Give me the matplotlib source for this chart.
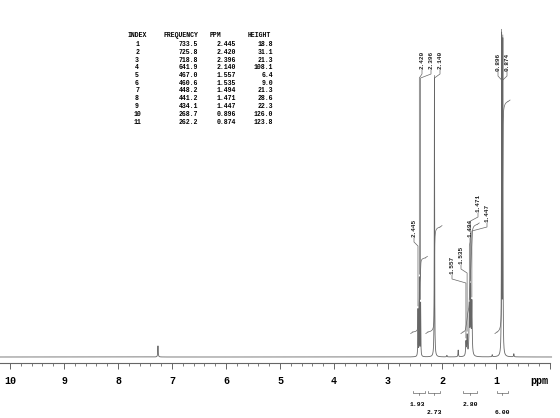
import numpy as np
import matplotlib.pyplot as plt
from matplotlib.ticker import MultipleLocator

# peak table (as printed on the spectrum)
peak_index = [1, 2, 3, 4, 5, 6, 7, 8, 9, 10, 11]
peak_freq = [733.5, 725.8, 718.8, 641.9, 467.0, 460.6, 448.2, 441.2, 434.1, 268.7, 262.2]
peak_ppm = [2.445, 2.420, 2.396, 2.140, 1.557, 1.535, 1.494, 1.471, 1.447, 0.896, 0.874]
peak_height = [18.8, 31.1, 21.3, 108.1, 6.4, 9.0, 21.3, 28.6, 22.3, 126.0, 123.8]

# small unlabelled signals (CHCl3, impurities)
extra_ppm = [7.26, 1.91, 1.70, 1.07, 0.67]
extra_height = [4.3, 0.6, 2.6, 0.8, 1.2]

# integrals
integral_from = [2.54, 2.26, 1.61, 0.98]
integral_to = [2.31, 2.04, 1.35, 0.78]
integral_value = [1.93, 2.73, 2.80, 6.00]

# layout helpers: reference pixel -> data coords
PX_PER_PPM = 54.0
PX_PER_UNIT = 2.58
BASE_PX = 357


def ppm_at(px):
    return 10 - (px - 10) / PX_PER_PPM


def y_at(py):
    return (BASE_PX - py) / PX_PER_UNIT


FONT = 'Liberation Mono'
LINE = '#666666'

# label placement (pixel x of label, pixel y of label bottom)
label_x = [414, 422, 431, 440, 452, 461, 470, 478, 487, 498, 507]
label_bottom = [238, 70, 70, 70, 275, 265, 238, 213, 223, 72, 72]

# --- build spectrum from the peak list (lorentzian lines)
x = np.linspace(10.3, -0.03, 60000)
pk = np.array(peak_ppm)
hw = np.where((pk > 1.4) & (pk < 1.6), 0.0065, 0.0035)


def lor(xx, x0, g):
    return g ** 2 / ((xx - x0) ** 2 + g ** 2)


# solve amplitudes so that the summed maxima match the listed heights
A = np.array([[lor(pi, pj, gj) for pj, gj in zip(pk, hw)] for pi in pk])
amps = np.linalg.solve(A, np.array(peak_height))
y = np.zeros_like(x)
for a, p0, g in zip(amps, pk, hw):
    y += a * lor(x, p0, g)
for p0, h in zip(extra_ppm, extra_height):
    y += h * lor(x, p0, 0.005)

fig = plt.figure(figsize=(5.6, 4.18), dpi=100)
ax = fig.add_axes([0, 0, 1, 1])
ax.plot(x, y, color=LINE, lw=0.6)

# --- integral curves
int_base = y_at(332)
int_scale = 38.4 / PX_PER_UNIT
for a, b, v in zip(integral_from, integral_to, integral_value):
    m = (x <= a) & (x >= b)
    c = np.cumsum(y[m])
    c = (c - c[0]) / (c[-1] - c[0])
    ix = x[m]
    iy = int_base + c * v * int_scale
    ax.plot(ix, iy, color=LINE, lw=0.5)
    ax.plot([ix[0] + 0.04, ix[0]], [iy[0] - 0.6, iy[0]], color=LINE, lw=0.5)
    ax.plot([ix[-1], ix[-1] - 0.04], [iy[-1], iy[-1] + 0.6], color=LINE, lw=0.5)

# integral brackets and values under the axis
br_y = y_at(393)
for i, (a, b, v) in enumerate(zip(integral_from, integral_to, integral_value)):
    ax.plot([a, a, b, b], [br_y + 0.9, br_y, br_y, br_y + 0.9], color=LINE, lw=0.5)
    mid = (a + b) / 2
    ax.plot([mid, mid], [br_y, br_y - 0.9], color=LINE, lw=0.5)
    ty = y_at(404) if i % 2 == 0 else y_at(413)
    ax.text(mid + (0.03 if i == 0 else 0), ty, f'{v:.2f}', ha='center', va='center',
            family=FONT, weight='bold', fontsize=4.6)

# --- peak labels with leader lines
for p0, h, lx, lb in zip(peak_ppm, peak_height, label_x, label_bottom):
    lxp = ppm_at(lx)
    yb = y_at(lb)
    ax.text(lxp, yb + 0.3, f'{p0:.3f}', rotation=90, ha='center', va='bottom',
            family=FONT, weight='bold', fontsize=4.4, color='#222222')
    y1 = yb - 4 / PX_PER_UNIT
    y2 = y1 - 4 / PX_PER_UNIT
    ax.plot([lxp, lxp, p0, p0], [yb, y1, y2, h + 1.0], color=LINE, lw=0.5)

# --- peak table
cols_y0 = 37
row_dy = 7.75
tkw = dict(family=FONT, weight='bold', fontsize=4.7, va='baseline')
fig.text(137 / 560, 1 - cols_y0 / 418, 'INDEX', ha='center', **tkw)
fig.text(164 / 560, 1 - cols_y0 / 418, 'FREQUENCY', ha='left', **tkw)
fig.text(210 / 560, 1 - cols_y0 / 418, 'PPM', ha='left', **tkw)
fig.text(248 / 560, 1 - cols_y0 / 418, 'HEIGHT', ha='left', **tkw)
for r, (i, f, p, h) in enumerate(zip(peak_index, peak_freq, peak_ppm, peak_height)):
    ty = 1 - (46 + r * row_dy) / 418
    fig.text(137 / 560, ty, str(i), ha='center', **tkw)
    fig.text(198 / 560, ty, f'{f:.1f}', ha='right', **tkw)
    fig.text(236 / 560, ty, f'{p:.3f}', ha='right', **tkw)
    fig.text(273 / 560, ty, f'{h:.1f}', ha='right', **tkw)

# --- ppm axis
ax.set_xlim(ppm_at(0), ppm_at(560))
ax.set_ylim(y_at(418), y_at(0))
for s in ['top', 'left', 'right']:
    ax.spines[s].set_visible(False)
ax.spines['bottom'].set_position(('data', y_at(363)))
ax.spines['bottom'].set_bounds(0, ppm_at(0))
ax.spines['bottom'].set_color('#666666')
ax.spines['bottom'].set_linewidth(0.8)
ax.set_yticks([])
ax.set_xticks(range(0, 11))
ax.set_xticklabels([''] + [str(k) for k in range(1, 11)])
ax.xaxis.set_minor_locator(MultipleLocator(0.2))
ax.tick_params(axis='x', which='major', direction='out', length=4.5, width=0.7,
               color='#666666', pad=4.5)
ax.tick_params(axis='x', which='minor', direction='out', length=2.3, width=0.6,
               color='#666666')
for lab in ax.get_xticklabels():
    lab.set_family(FONT)
    lab.set_weight('bold')
    lab.set_fontsize(7.2)
ax.text(ppm_at(539), y_at(381), 'ppm', ha='center', va='center',
        family=FONT, weight='bold', fontsize=7.2)

fig.savefig('out.png', dpi=100)
